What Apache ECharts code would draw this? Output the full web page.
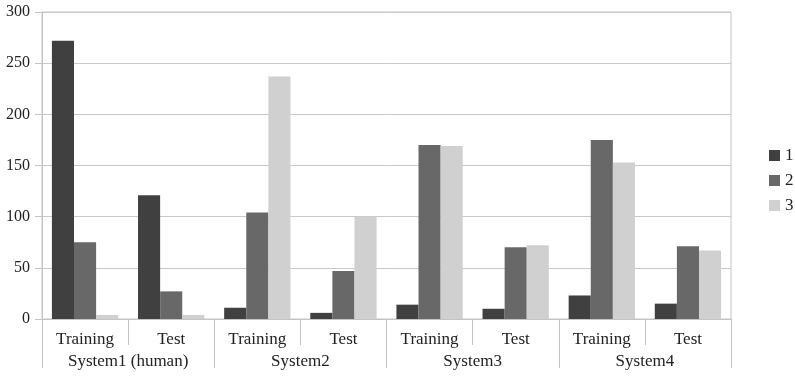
<!DOCTYPE html>
<html>
<head>
<meta charset="utf-8">
<script src="https://cdn.jsdelivr.net/npm/echarts@6/dist/echarts.min.js"></script>
<style>
  html, body { margin: 0; padding: 0; background: #fff; }
  #main { width: 795px; height: 376px; }
</style>
</head>
<body>
<div id="main"></div>
<script>
// inner categories and outer groups
const phases = ['Training', 'Test', 'Training', 'Test', 'Training', 'Test', 'Training', 'Test']
const systems = ['System1 (human)', 'System2', 'System3', 'System4']
const seriesNames = ['1', '2', '3']
const yTicks = [0, 50, 100, 150, 200, 250, 300]

// values
const values1 = [272, 121, 11, 6, 14, 10, 23, 15]
const values2 = [75, 27, 104, 47, 170, 70, 175, 71]
const values3 = [4, 4, 237, 100, 169, 72, 153, 67]

const colors = ['#404040', '#686868', '#d0d0d0']
const font = 'Liberation Serif'
const lineGray = '#c4c4c4'

const chart = echarts.init(document.getElementById('main'))

chart.setOption({
  animation: false,
  color: colors,
  textStyle: { fontFamily: font },
  legend: {
    orient: 'vertical',
    left: 764,
    top: 142,
    icon: 'rect',
    itemWidth: 11,
    itemHeight: 11,
    itemGap: 8,
    data: seriesNames,
    textStyle: { fontFamily: font, fontSize: 17, color: '#222' }
  },
  grid: {
    left: 42,
    right: 64,
    top: 12,
    bottom: 57,
    show: true,
    borderColor: lineGray,
    borderWidth: 1
  },
  xAxis: [{
    type: 'category',
    data: phases,
    position: 'bottom',
    axisLine: { lineStyle: { color: lineGray } },
    axisTick: { show: true, interval: 0, length: 26, lineStyle: { color: lineGray } },
    axisLabel: { interval: 0, margin: 12, fontSize: 17, color: '#222', fontFamily: font }
  }, {
    type: 'category',
    data: systems,
    position: 'bottom',
    axisLine: { show: false },
    axisTick: { show: true, interval: 0, length: 49, lineStyle: { color: lineGray } },
    axisLabel: { interval: 0, margin: 34, fontSize: 17, color: '#222', fontFamily: font }
  }],
  yAxis: {
    type: 'value',
    min: yTicks[0],
    max: yTicks[yTicks.length - 1],
    interval: 50,
    axisLine: { show: true, lineStyle: { color: lineGray } },
    axisTick: { show: true, length: 7, lineStyle: { color: lineGray } },
    axisLabel: { margin: 12, fontSize: 16, color: '#222', fontFamily: font },
    splitLine: { lineStyle: { color: '#c8c8c8' } }
  },
  series: [
    { name: seriesNames[0], type: 'bar', data: values1, barGap: '0%', barCategoryGap: '23%' },
    { name: seriesNames[1], type: 'bar', data: values2 },
    { name: seriesNames[2], type: 'bar', data: values3 }
  ]
})
</script>
</body>
</html>
